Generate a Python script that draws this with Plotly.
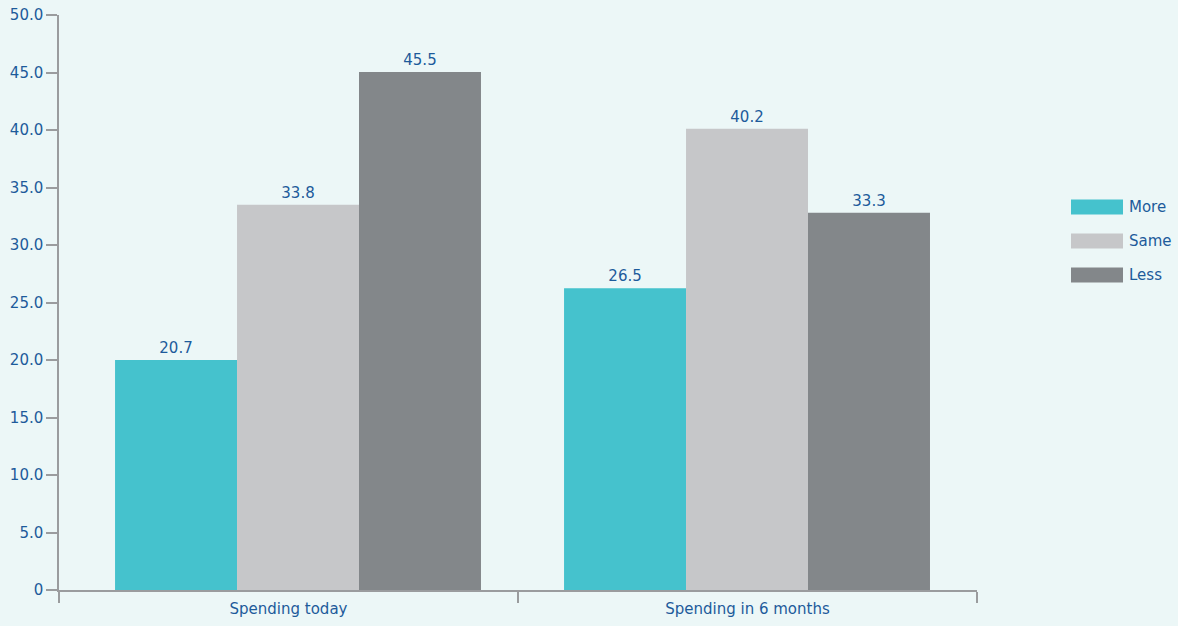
import plotly.graph_objects as go

categories = ["Spending today", "Spending in 6 months"]
series_names = ["More", "Same", "Less"]
# bar heights as drawn in the picture
bar_values = {
    "More": [20.0, 26.25],
    "Same": [33.5, 40.1],
    "Less": [45.05, 32.8],
}
# printed data labels
label_values = {
    "More": [20.7, 26.5],
    "Same": [33.8, 40.2],
    "Less": [45.5, 33.3],
}
colors = {"More": "#45c2cd", "Same": "#c6c7c9", "Less": "#83878a"}
y_tickvals = [0, 5, 10, 15, 20, 25, 30, 35, 40, 45, 50]
y_ticktext = ["0"] + [f"{v:.1f}" for v in y_tickvals[1:]]

FONT = "DejaVu Sans"
TXT = "#1d5b9b"
AX = "#9a9c9e"

fig = go.Figure()
for name in series_names:
    fig.add_trace(go.Bar(
        x=categories, y=bar_values[name], name=name,
        marker=dict(color=colors[name], line=dict(width=0)),
        text=[f"{v:.1f}" for v in label_values[name]],
        textposition="outside", cliponaxis=False,
        textfont=dict(family=FONT, size=15, color=TXT),
        showlegend=False,
    ))
# invisible trace carrying the category axis with boundary ticks
fig.add_trace(go.Scatter(x=categories, y=[None, None], xaxis="x2",
                         mode="markers", showlegend=False, hoverinfo="skip"))

# custom legend with wide swatches
for i, name in enumerate(series_names):
    yc = 207 + 34 * i
    fig.add_shape(type="rect", xref="paper", yref="paper",
                  x0=(1071 - 59) / 918, x1=(1123 - 59) / 918,
                  y0=(590 - (yc + 7.5)) / 575, y1=(590 - (yc - 7.5)) / 575,
                  fillcolor=colors[name], line=dict(width=0))
    fig.add_annotation(xref="paper", yref="paper",
                       x=(1127 - 59) / 918, y=(590 - yc) / 575,
                       text=name, showarrow=False, xanchor="left", yanchor="middle",
                       font=dict(family=FONT, size=15, color=TXT))

fig.update_layout(
    width=1178, height=626,
    margin=dict(l=59, r=201, t=15, b=36),
    paper_bgcolor="#ecf7f7", plot_bgcolor="#ecf7f7",
    barmode="group", bargap=0.185, bargroupgap=0,
    font=dict(family=FONT, size=15, color=TXT),
    xaxis=dict(range=[-0.5323, 1.5122], showgrid=False, showline=False,
               showticklabels=False, ticks="", automargin=False),
    xaxis2=dict(type="category", categoryarray=categories, range=[-0.5, 1.5],
                overlaying="x", side="bottom", anchor="y",
                showgrid=False, showline=True, linecolor=AX, linewidth=1.5,
                ticks="outside", tickson="boundaries", ticklen=11,
                tickcolor=AX, tickwidth=1.5, automargin=False,
                ticklabelstandoff=4,
                tickfont=dict(family=FONT, size=15, color=TXT)),
    yaxis=dict(range=[0, 50], tickvals=y_tickvals, ticktext=y_ticktext,
               showgrid=False, zeroline=False, showline=True, linecolor=AX,
               linewidth=1.5, ticks="outside", ticklen=11, tickcolor=AX,
               tickwidth=1.5, automargin=False,
               tickfont=dict(family=FONT, size=15, color=TXT)),
)

fig.write_html("out.html")
